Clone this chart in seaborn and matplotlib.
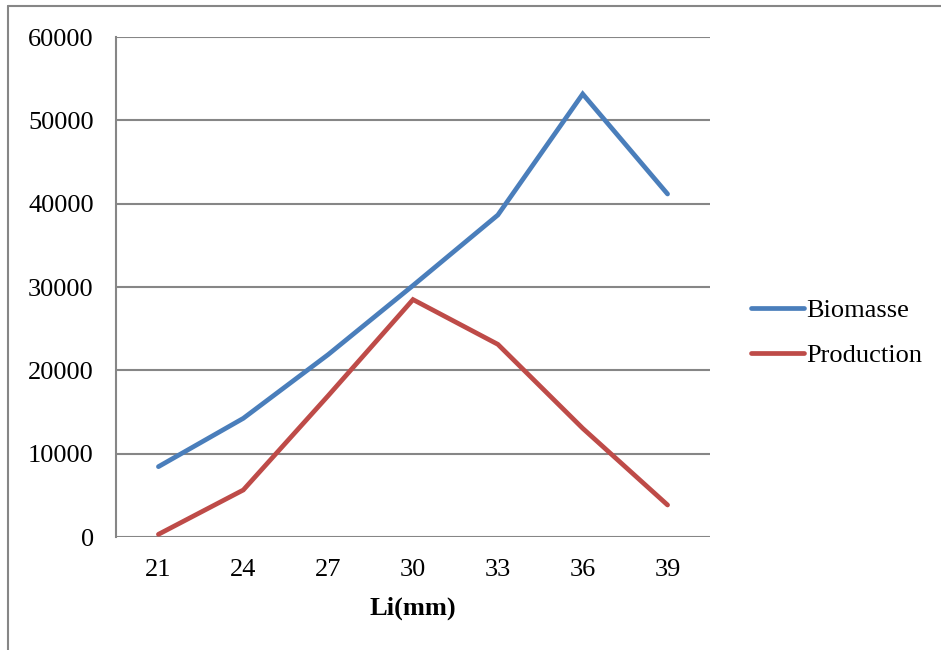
import matplotlib
matplotlib.use("Agg")
import matplotlib.pyplot as plt
from matplotlib.lines import Line2D
import pandas as pd
import seaborn as sns

# Length classes (mm) and the two series
li_mm = [21, 24, 27, 30, 33, 36, 39]
biomasse = [8440, 14240, 21890, 30180, 38640, 53160, 41160]
production = [320, 5640, 16950, 28490, 23120, 13040, 3840]
series_names = ["Biomasse", "Production"]
y_ticks = [0, 10000, 20000, 30000, 40000, 50000, 60000]

df = pd.DataFrame({
    "Li(mm)": li_mm * 2,
    "value": biomasse + production,
    "serie": [series_names[0]] * len(li_mm) + [series_names[1]] * len(li_mm),
})

sns.set_theme(style="white")
plt.rcParams["font.family"] = ["Liberation Serif", "DejaVu Serif"]
plt.rcParams["text.color"] = "black"
plt.rcParams["axes.labelcolor"] = "black"

FS = 19

fig = plt.figure(figsize=(9.41, 6.5), dpi=100)
ax = fig.add_axes([116 / 941, 1 - 537 / 650, (710 - 116) / 941, 500 / 650])

palette = {"Biomasse": "#4A7EBB", "Production": "#BE4B48"}
sns.lineplot(data=df, x="Li(mm)", y="value", hue="serie", palette=palette,
             linewidth=3.4, ax=ax, legend=False, solid_capstyle="round",
             solid_joinstyle="miter")

ax.set_xlim(19.5, 40.5)
ax.set_ylim(0, 60000)
ax.set_xticks(li_mm)
ax.set_xticklabels([str(v) for v in li_mm])
ax.set_yticks(y_ticks)
ax.set_yticklabels([str(v) for v in y_ticks])
ax.tick_params(axis="both", length=0, labelsize=FS, colors="black")
ax.tick_params(axis="x", pad=16)
ax.tick_params(axis="y", pad=16)

ax.grid(axis="y", color="#868686", linewidth=1.5)
ax.grid(axis="x", visible=False)
ax.set_axisbelow(True)
for side in ["top", "right", "bottom"]:
    ax.spines[side].set_visible(False)
ax.spines["left"].set_color("#868686")
ax.spines["left"].set_linewidth(1.5)

ax.set_xlabel("Li(mm)", fontsize=FS, fontweight="bold", labelpad=11, color="black")
ax.set_ylabel("")

handles = [Line2D([0], [0], color=palette[n], linewidth=3.4, solid_capstyle="round")
           for n in series_names]
fig.legend(handles, series_names, loc="center left",
           bbox_to_anchor=(727 / 941, 1 - 333 / 650), frameon=False,
           fontsize=FS, handlelength=2.0, handletextpad=0.12, labelspacing=0.8,
           labelcolor="black")

# Outer chart frame (left and top edges)
fig.add_artist(Line2D([8 / 941, 8 / 941], [0, 1 - 6 / 650], color="#868686",
                      linewidth=1.5, transform=fig.transFigure))
fig.add_artist(Line2D([8 / 941, 1], [1 - 6 / 650, 1 - 6 / 650], color="#868686",
                      linewidth=1.5, transform=fig.transFigure))

fig.savefig("out.png", dpi=100, facecolor="white")
